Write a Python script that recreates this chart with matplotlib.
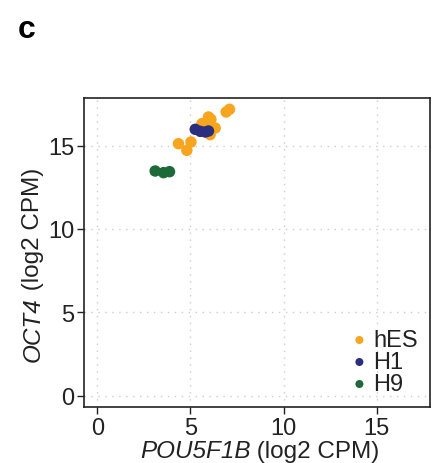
import matplotlib
matplotlib.use("Agg")
import matplotlib.pyplot as plt

plt.rcParams['font.family'] = ['Liberation Sans', 'DejaVu Sans']

groups = ["hES", "H1", "H9"]
colors = ["#F7A51F", "#2B2E7E", "#1C6A37"]

hes_x = [4.36, 4.81, 5.03, 5.62, 5.80, 5.97, 6.10, 6.33, 6.06, 6.92, 7.10]
hes_y = [15.12, 14.72, 15.22, 16.32, 16.22, 16.72, 16.58, 16.06, 15.66, 17.02, 17.18]
h1_x = [5.26, 5.53, 5.80, 5.97]
h1_y = [15.98, 15.86, 15.82, 15.88]
h9_x = [3.11, 3.56, 3.88]
h9_y = [13.48, 13.38, 13.44]

ticks = [0, 5, 10, 15]
txt = '#222222'

fig = plt.figure(figsize=(4.37, 4.64), dpi=100)
ax = fig.add_axes([84 / 437, 1 - 408 / 464, (430 - 84) / 437, (408 - 99) / 464])

for gx, gy, lab, col in zip([hes_x, h1_x, h9_x], [hes_y, h1_y, h9_y], groups, colors):
    ax.scatter(gx, gy, s=68, color=col, label=lab, edgecolors='none', zorder=3)

ax.set_xlim(-0.71, 17.86)
ax.set_ylim(-0.68, 17.86)
ax.set_xticks(ticks)
ax.set_yticks(ticks)
ax.grid(True, color='#cccccc', linestyle=(0, (1, 4)), linewidth=1.0)
ax.tick_params(labelsize=17, length=5, width=1, colors=txt, pad=2)
for s in ax.spines.values():
    s.set_linewidth(1.2)
    s.set_color(txt)

# axis titles: gene name in italics, units upright, chained so they line up
t1 = fig.text(140 / 437, 1 - 458 / 464, "POU5F1B", fontsize=17.5, style='italic',
              color=txt, ha='left', va='baseline')
ax.annotate(" (log2 CPM)", xy=(1, 0), xycoords=t1, fontsize=17.5, color=txt,
            ha='left', va='bottom', annotation_clip=False)

t2 = fig.text(33 / 437, 1 - 362 / 464, "OCT4", fontsize=17.5, style='italic',
              color=txt, rotation=90, ha='center', va='bottom')
ax.annotate(" (log2 CPM)", xy=(0.5, 1), xycoords=t2, fontsize=17.5, color=txt,
            rotation=90, ha='center', va='bottom', annotation_clip=False)

leg = ax.legend(loc='lower right', frameon=False, fontsize=17, handletextpad=0.0,
                labelspacing=0.0, markerscale=0.7, borderaxespad=0.1, handlelength=1.2)
for t in leg.get_texts():
    t.set_color(txt)

fig.text(18 / 437, 1 - 30 / 464, "c", fontsize=23, fontweight='bold', va='center')

fig.savefig("out.png", dpi=100)
